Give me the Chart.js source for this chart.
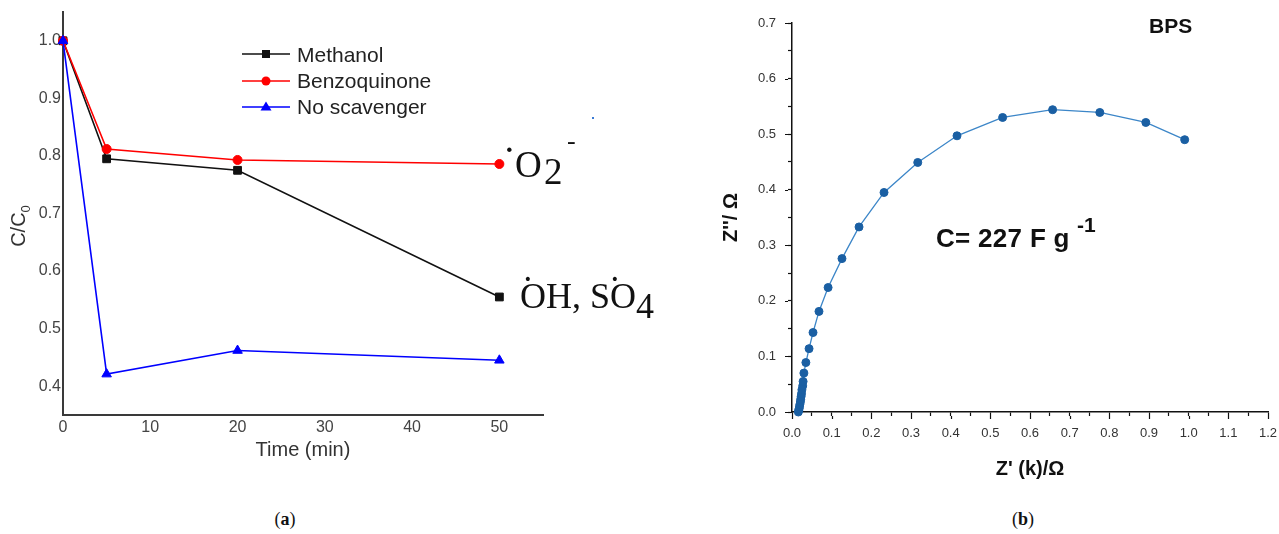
<!DOCTYPE html>
<html>
<head>
<meta charset="utf-8">
<script src="https://cdn.jsdelivr.net/npm/chart.js@4.4.0/dist/chart.umd.min.js"></script>
<style>
  body { margin:0; background:#fff; width:1279px; height:534px; position:relative; overflow:hidden; font-family:"Liberation Sans", Arial, sans-serif; }
  canvas { position:absolute; }
  .abs { position:absolute; white-space:nowrap; line-height:1; }
  .serif { font-family:"Liberation Serif", "Times New Roman", serif; color:#111; }
  .legend-row { position:absolute; left:242px; height:16px; }
  .legend-txt { position:absolute; left:297px; font-size:21px; color:#222; line-height:1; white-space:nowrap; }
  .bold { font-weight:bold; color:#111; }
</style>
</head>
<body>
<canvas id="scav" width="560" height="480" style="left:0;top:0"></canvas>
<canvas id="nyq" width="579" height="500" style="left:700px;top:0"></canvas>

<!-- legend of the scavenger plot -->
<svg class="legend-row" style="top:46px" width="52" height="16"><line x1="0" y1="8" x2="48" y2="8" stroke="#111" stroke-width="1.6"/><rect x="20" y="4" width="8" height="8" fill="#111"/></svg>
<div class="legend-txt" style="top:44px">Methanol</div>
<svg class="legend-row" style="top:73px" width="52" height="16"><line x1="0" y1="8" x2="48" y2="8" stroke="#ff0000" stroke-width="1.6"/><circle cx="24" cy="8" r="4.5" fill="#ff0000"/></svg>
<div class="legend-txt" style="top:70px">Benzoquinone</div>
<svg class="legend-row" style="top:99px" width="52" height="16"><line x1="0" y1="8" x2="48" y2="8" stroke="#0000ff" stroke-width="1.6"/><polygon points="24,2.5 29.5,11.5 18.5,11.5" fill="#0000ff"/></svg>
<div class="legend-txt" style="top:96px">No scavenger</div>

<!-- y title with subscript -->
<div class="abs" style="left:-12px;top:214px;width:60px;height:24px;line-height:24px;text-align:center;font-size:20px;color:#333;transform:rotate(-90deg)">C/C<span style="font-size:13px;position:relative;top:5px">0</span></div>

<!-- radical labels -->
<div class="abs serif" style="left:503px;top:130px;font-size:38px">·</div>
<div class="abs serif" style="left:515px;top:146px;font-size:37px">O</div>
<div class="abs serif" style="left:544px;top:153px;font-size:37px">2</div>
<div class="abs serif" style="left:567px;top:128px;font-size:26px">-</div>
<div class="abs" style="left:592px;top:117px;width:2px;height:2px;background:#3a7bd5"></div>

<div class="abs serif" style="left:520px;top:278px;font-size:36px">OH, SO<span style="position:relative;top:10px">4</span></div>
<div class="abs serif" style="left:522px;top:262px;font-size:35px">·</div>
<div class="abs serif" style="left:609px;top:262px;font-size:35px">·</div>

<!-- impedance plot labels -->
<div class="abs bold" style="left:1149px;top:15px;font-size:21px">BPS</div>
<div class="abs bold" style="left:936px;top:225px;font-size:26px;letter-spacing:0.3px">C= 227 F g</div>
<div class="abs bold" style="left:1077px;top:214px;font-size:21px">-1</div>

<!-- panel captions -->
<div class="abs serif" style="left:265px;top:510px;width:40px;text-align:center;font-size:18px">(<b>a</b>)</div>
<div class="abs serif" style="left:1003px;top:510px;width:40px;text-align:center;font-size:18px">(<b>b</b>)</div>

<script>
// scavenger test: C/C0 vs time
var timeMin = [0, 5, 20, 50];
var methanol = [1.0, 0.795, 0.775, 0.555];
var benzoquinone = [1.0, 0.812, 0.793, 0.786];
var noScavenger = [1.0, 0.421, 0.462, 0.445];
var timeTicks = [0, 10, 20, 30, 40, 50];
var ratioTicks = [0.4, 0.5, 0.6, 0.7, 0.8, 0.9, 1.0];

// Nyquist plot of BPS
var zReal = [0.016, 0.017, 0.018, 0.019, 0.020, 0.021, 0.022, 0.023, 0.024, 0.025, 0.027, 0.028, 0.030, 0.035,
             0.043, 0.053, 0.068, 0.091, 0.126, 0.169, 0.232, 0.317, 0.416, 0.531, 0.657, 0.776, 0.892, 0.990];
var zImag = [0.000, 0.003, 0.006, 0.010, 0.014, 0.018, 0.023, 0.028, 0.033, 0.040, 0.047, 0.055, 0.070, 0.089,
             0.114, 0.143, 0.181, 0.224, 0.276, 0.333, 0.395, 0.449, 0.497, 0.530, 0.544, 0.539, 0.521, 0.490];
var zRealTicks = [0, 0.05, 0.1, 0.15, 0.2, 0.25, 0.3, 0.35, 0.4, 0.45, 0.5, 0.55, 0.6, 0.65, 0.7, 0.75,
                  0.8, 0.85, 0.9, 0.95, 1.0, 1.05, 1.1, 1.15, 1.2];
var zImagTicks = [0, 0.05, 0.1, 0.15, 0.2, 0.25, 0.3, 0.35, 0.4, 0.45, 0.5, 0.55, 0.6, 0.65, 0.7];

function pairs(xs, ys) {
  return xs.map(function(x, i) { return {x: x, y: ys[i]}; });
}
function fixedTicks(list) {
  return function(scale) { scale.ticks = list.map(function(v) { return {value: v}; }); };
}
function isMajor(v) {
  return Math.round(v * 100) % 10 === 0;
}
function majorOnly(v) {
  return isMajor(v) ? v.toFixed(1) : '';
}

// longer marks for labelled ticks, short ones in between
var majorTicks = {
  id: 'majorTicks',
  afterDraw: function(chart) {
    var ctx = chart.ctx, xs = chart.scales.x, ys = chart.scales.y;
    ctx.save();
    ctx.strokeStyle = '#111';
    ctx.lineWidth = 1.2;
    ctx.beginPath();
    xs.ticks.forEach(function(t) {
      if (!isMajor(t.value)) return;
      var px = Math.round(xs.getPixelForValue(t.value)) + 0.5;
      ctx.moveTo(px, xs.top + 4);
      ctx.lineTo(px, xs.top + 7);
    });
    ys.ticks.forEach(function(t) {
      if (!isMajor(t.value)) return;
      var py = Math.round(ys.getPixelForValue(t.value)) + 0.5;
      ctx.moveTo(ys.right - 4, py);
      ctx.lineTo(ys.right - 7, py);
    });
    ctx.stroke();
    ctx.restore();
  }
};

var series = function(label, ys, color, style, r, order) {
  return {
    label: label, data: pairs(timeMin, ys),
    borderColor: color, backgroundColor: color, pointBackgroundColor: color, pointBorderColor: color,
    borderWidth: 1.6, pointStyle: style, pointRadius: r, pointBorderWidth: 1,
    tension: 0, clip: false, order: order
  };
};

new Chart(document.getElementById('scav'), {
  type: 'line',
  data: {
    datasets: [
      series('Methanol', methanol, '#111111', 'rect', 5.5, 3),
      series('Benzoquinone', benzoquinone, '#ff0000', 'circle', 4.5, 2),
      series('No scavenger', noScavenger, '#0000ff', 'triangle', 5.5, 1)
    ]
  },
  options: {
    animation: false,
    responsive: false,
    layout: { padding: { left: 0, top: 12, right: 17, bottom: 0 } },
    plugins: { legend: { display: false }, tooltip: { enabled: false } },
    scales: {
      x: {
        type: 'linear', min: 0, max: 55,
        afterFit: function(s) { s.height = 65; },
        afterBuildTicks: fixedTicks(timeTicks),
        grid: { display: false, drawTicks: false },
        border: { color: '#3a3a3a', width: 2 },
        ticks: { font: { size: 16 }, color: '#444', padding: 3, maxRotation: 0, autoSkip: false },
        title: { display: true, text: 'Time (min)', font: { size: 20 }, color: '#333', padding: { top: 0, bottom: 18 } }
      },
      y: {
        min: 0.35, max: 1.05,
        afterFit: function(s) { s.width = 63; },
        afterBuildTicks: fixedTicks(ratioTicks),
        grid: { display: false, drawTicks: false },
        border: { color: '#3a3a3a', width: 2 },
        ticks: { font: { size: 16 }, color: '#444', padding: 2, autoSkip: false,
                 callback: function(v) { return v.toFixed(1); } }
      }
    }
  }
});

// the x axis runs to the right edge; the last label may hang past it
var nyqChart = new Chart(document.getElementById('nyq'), {
  type: 'scatter',
  data: {
    datasets: [{
      label: 'BPS', data: pairs(zReal, zImag),
      showLine: true, borderColor: '#3c86c8', borderWidth: 1.3,
      pointStyle: 'circle', pointRadius: 4, pointBackgroundColor: '#1a5fa3', pointBorderColor: '#1a5fa3',
      pointBorderWidth: 1, clip: false
    }]
  },
  plugins: [majorTicks],
  options: {
    animation: false,
    responsive: false,
    layout: { padding: { left: 0, top: 23, right: 11, bottom: 0 } },
    plugins: { legend: { display: false }, tooltip: { enabled: false } },
    scales: {
      x: {
        type: 'linear', min: 0, max: 1.2,
        afterFit: function(s) { s.height = 88; s.paddingRight = 0; },
        afterBuildTicks: fixedTicks(zRealTicks),
        grid: { drawOnChartArea: false, tickLength: 4, tickColor: '#111', tickWidth: 1.2 },
        border: { color: '#111', width: 1.5 },
        ticks: { font: { size: 13 }, color: '#333', padding: 10, maxRotation: 0, autoSkip: false, callback: majorOnly },
        title: { display: true, text: "Z' (k)/\u03a9", font: { size: 20, weight: 'bold' }, color: '#111', padding: { top: 0, bottom: 19 } }
      },
      y: {
        min: 0, max: 0.7,
        afterFit: function(s) { s.width = 92; s.paddingTop = 0; },
        afterBuildTicks: fixedTicks(zImagTicks),
        grid: { drawOnChartArea: false, tickLength: 4, tickColor: '#111', tickWidth: 1.2 },
        border: { color: '#111', width: 1.5 },
        ticks: { font: { size: 13 }, color: '#333', padding: 12, autoSkip: false, callback: majorOnly },
        title: { display: true, text: "Z''/ \u03a9", font: { size: 20, weight: 'bold' }, color: '#111', padding: { top: 19, bottom: 0 } }
      }
    }
  }
});
</script>
</body>
</html>
